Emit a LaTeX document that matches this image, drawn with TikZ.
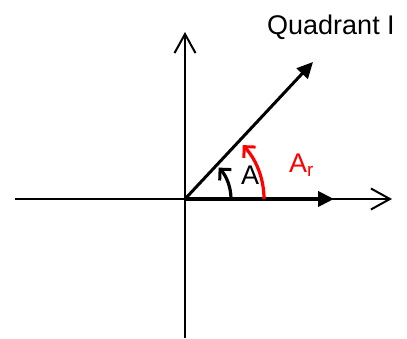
\documentclass[tikz,border=0pt]{standalone}
\usepackage{fontspec}
\setmainfont{Liberation Sans}
\usetikzlibrary{arrows.meta}
\begin{document}
\begin{tikzpicture}[x=1pt,y=1pt,
  axis/.style={line width=2pt,-{Straight Barb[length=19pt,width=21pt,line width=2pt]}},
  vec/.style={line width=#1,-{Triangle[length=16pt,width=15pt]}},
  anglearc/.style={line width=3.2pt,-{Straight Barb[length=8pt,width=16pt,line width=3pt]}},
  lbl/.style={font=\fontsize{27}{31}\selectfont,inner sep=0pt}]
\useasboundingbox (0,0) rectangle (407,339);
\coordinate (O) at (185,140);
\coordinate (L) at (15,140);
\coordinate (R) at (392,140);
\coordinate (B) at (185,1);
\coordinate (T) at (185,307);
\coordinate (V) at (334,140);
\coordinate (D) at (313,277);
\draw[axis] (L) -- (R);
\draw[axis] (B) -- (T);
\draw[vec=4.5pt] (O) -- (V);
\draw[vec=3pt] (O) -- (D);
\draw[anglearc] ([xshift=46pt]O) arc[start angle=0,end angle=43,radius=46pt];
\draw[anglearc,red] ([xshift=79pt]O) arc[start angle=0,end angle=43,radius=79pt];
\node[lbl,anchor=base west] (q) at (267,304) {Quadrant I};
\node[lbl,anchor=base west] (a) at (241,154) {A};
\node[lbl,anchor=base west,text=red] (ar) at (289,166) {A\textsubscript{r}};
\end{tikzpicture}
\end{document}
